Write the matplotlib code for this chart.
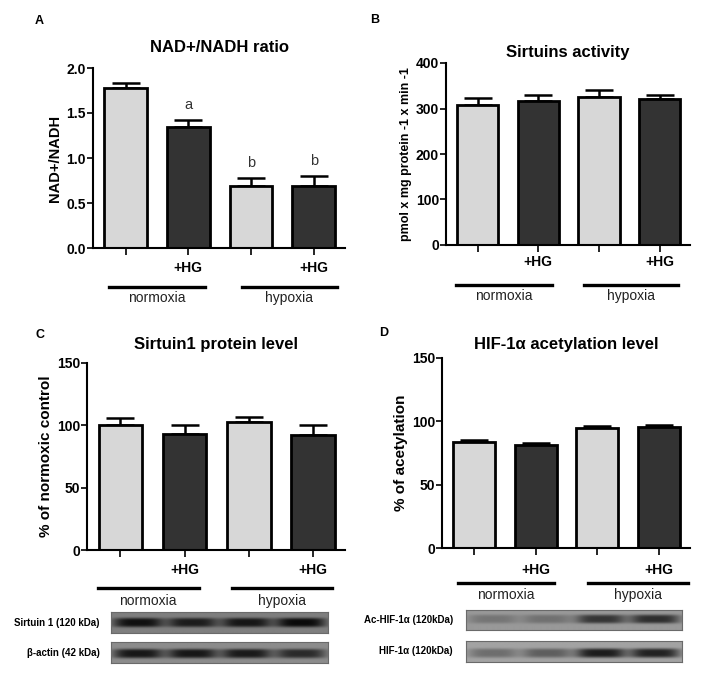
import numpy as np
import matplotlib
matplotlib.use("Agg")
import matplotlib.pyplot as plt
from matplotlib.transforms import blended_transform_factory

plt.rcParams['font.family'] = ['Liberation Sans', 'DejaVu Sans']

# ---------------- data ----------------
xticklabels = ['', '+HG', '', '+HG']
groups = ['normoxia', 'hypoxia']

nad_values = [1.78, 1.35, 0.69, 0.69]
nad_err = [0.05, 0.07, 0.09, 0.11]
nad_sig = ['', 'a', 'b', 'b']

sirt_act_values = [308, 316, 325, 320]
sirt_act_err = [16, 14, 15, 9]

sirt1_values = [100, 93, 103, 92]
sirt1_err = [5.5, 7.5, 3.5, 8]

hif_values = [83.5, 81, 94.5, 95.5]
hif_err = [2.0, 1.8, 1.7, 1.6]

# western blot band intensities (per lane, 0..1)
blot_sirt1 = [0.95, 0.85, 0.9, 1.0]
blot_actin = [0.9, 0.9, 0.88, 0.75]
blot_achif = [0.25, 0.28, 0.70, 0.75]
blot_hif = [0.35, 0.45, 0.88, 0.85]

W, H = 710, 674
fig = plt.figure(figsize=(W / 100, H / 100), dpi=100)

def px_axes(x0, y0, x1, y1):
    return fig.add_axes([x0 / W, 1 - y1 / H, (x1 - x0) / W, (y1 - y0) / H])

LIGHT = '#d7d7d7'
DARK = '#333333'
colors = [LIGHT, DARK, LIGHT, DARK]

def bar_panel(box, values, err, ylim, yticks, yfmt, title, ylabel, ylabel_size,
              letter, letter_xy, title_y, hg_y, line_y, lab_y, norm_span, hyp_span,
              sig=None):
    ax = px_axes(*box)
    x = np.arange(4)
    ax.bar(x, values, width=0.68, color=colors, edgecolor='black', linewidth=2.0, zorder=2)
    ax.errorbar(x, values, yerr=[[0] * 4, err], fmt='none', ecolor='black',
                elinewidth=1.8, capsize=10, capthick=1.8, zorder=1)
    ax.set_xlim(-0.52, 3.5)
    ax.set_ylim(*ylim)
    ax.set_yticks(yticks)
    ax.set_yticklabels([yfmt.format(v) for v in yticks], fontsize=10, fontweight='bold')
    ax.set_xticks(x)
    ax.set_xticklabels([])
    for s in ['top', 'right']:
        ax.spines[s].set_visible(False)
    for s in ['left', 'bottom']:
        ax.spines[s].set_linewidth(1.5)
    ax.tick_params(axis='x', length=5, width=1.2, direction='out')
    ax.tick_params(axis='y', length=4, width=1.2, direction='out', pad=1)
    ax.set_ylabel(ylabel, fontsize=ylabel_size, fontweight='bold', labelpad=3)
    tr = blended_transform_factory(ax.transData, fig.transFigure)
    for xi, lab in zip(x, xticklabels):
        if lab:
            ax.text(xi, 1 - hg_y / H, lab, transform=tr, ha='center', va='center',
                    fontsize=10, fontweight='bold')
    for span, g in zip([norm_span, hyp_span], groups):
        ax.plot(span, [1 - line_y / H] * 2, transform=tr, color='black', lw=2.4,
                clip_on=False)
        ax.text(np.mean(span), 1 - lab_y / H, g, transform=tr, ha='center',
                va='center', fontsize=10, color='#222222')
    trt = blended_transform_factory(ax.transAxes, fig.transFigure)
    ax.text(0.5, 1 - title_y / H, title, transform=trt, ha='center', va='center',
            fontsize=12, fontweight='bold')
    fig.text(letter_xy[0] / W, 1 - letter_xy[1] / H, letter, fontsize=9,
             fontweight='bold', ha='center', va='center')
    if sig:
        for xi, v, e, s in zip(x, values, err, sig):
            if s:
                ax.text(xi, v + e + (ylim[1] - ylim[0]) * 0.045, s, ha='center',
                        va='bottom', fontsize=10.5, color='#333333')
    return ax

# Panel A
bar_panel((93, 68, 345, 248), nad_values, nad_err, (0, 2.0), [0.0, 0.5, 1.0, 1.5, 2.0],
          '{:.1f}', 'NAD+/NADH ratio', 'NAD+/NADH', 10.5, 'A', (39, 21), 48,
          268, 287, 298, [-0.27, 1.27], [1.85, 3.37], sig=nad_sig)

# Panel B
bar_panel((446, 63, 690, 245), sirt_act_values, sirt_act_err, (0, 400), [0, 100, 200, 300, 400],
          '{:d}', 'Sirtuins activity', 'pmol x mg protein -1 x min -1', 9, 'B', (375, 20), 52,
          262, 285, 296, [-0.35, 1.22], [1.75, 3.3])

# Panel C
bar_panel((87, 363, 345, 550), sirt1_values, sirt1_err, (0, 150), [0, 50, 100, 150],
          '{:d}', 'Sirtuin1 protein level', '% of normoxic control', 11, 'C', (40, 335), 345,
          570, 588, 601, [-0.35, 1.22], [1.74, 3.3])

# Panel D
bar_panel((442, 358, 690, 548), hif_values, hif_err, (0, 150), [0, 50, 100, 150],
          '{:d}', 'HIF-1\u03b1 acetylation level', '% of acetylation', 11, 'D', (384, 333), 345,
          570, 583, 595, [-0.26, 1.3], [1.84, 3.46])

# ---------------- western blots ----------------
def blot(box, intensities, bg, label, label_x, yc=0.0, label_size=7):
    ax = px_axes(*box)
    h, w = 60, 400
    yy = np.linspace(-1, 1, h)[:, None]
    xx = np.linspace(0, 1, w)[None, :]
    img = np.full((h, w), bg, dtype=float)
    for i, a in enumerate(intensities):
        c = (i + 0.5) / len(intensities)
        gx = np.exp(-((xx - c) / 0.115) ** 4)
        gy = np.exp(-((yy - yc) / 0.45) ** 4)
        img = img - a * (bg - 0.04) * gx * gy
    img = np.clip(img, 0, 1)
    ax.imshow(img, cmap='gray', vmin=0, vmax=1, aspect='auto', interpolation='bilinear')
    ax.set_xticks([])
    ax.set_yticks([])
    for s in ax.spines.values():
        s.set_edgecolor('#6a6a6a')
        s.set_linewidth(0.8)
    cy = (box[1] + box[3]) / 2
    fig.text(label_x / W, 1 - cy / H, label, ha='right', va='center',
             fontsize=label_size, fontweight='bold')

blot((111, 612, 328, 633), blot_sirt1, 0.50, 'Sirtuin 1 (120 kDa)', 100)
blot((111, 642, 328, 663), blot_actin, 0.55, '\u03b2-actin (42 kDa)', 100, yc=0.1)
blot((466, 610, 682, 630), blot_achif, 0.60, 'Ac-HIF-1\u03b1 (120kDa)', 453, yc=-0.1)
blot((466, 641, 682, 662), blot_hif, 0.64, 'HIF-1\u03b1 (120kDa)', 453, yc=0.15)

fig.savefig('out.png', dpi=100)
